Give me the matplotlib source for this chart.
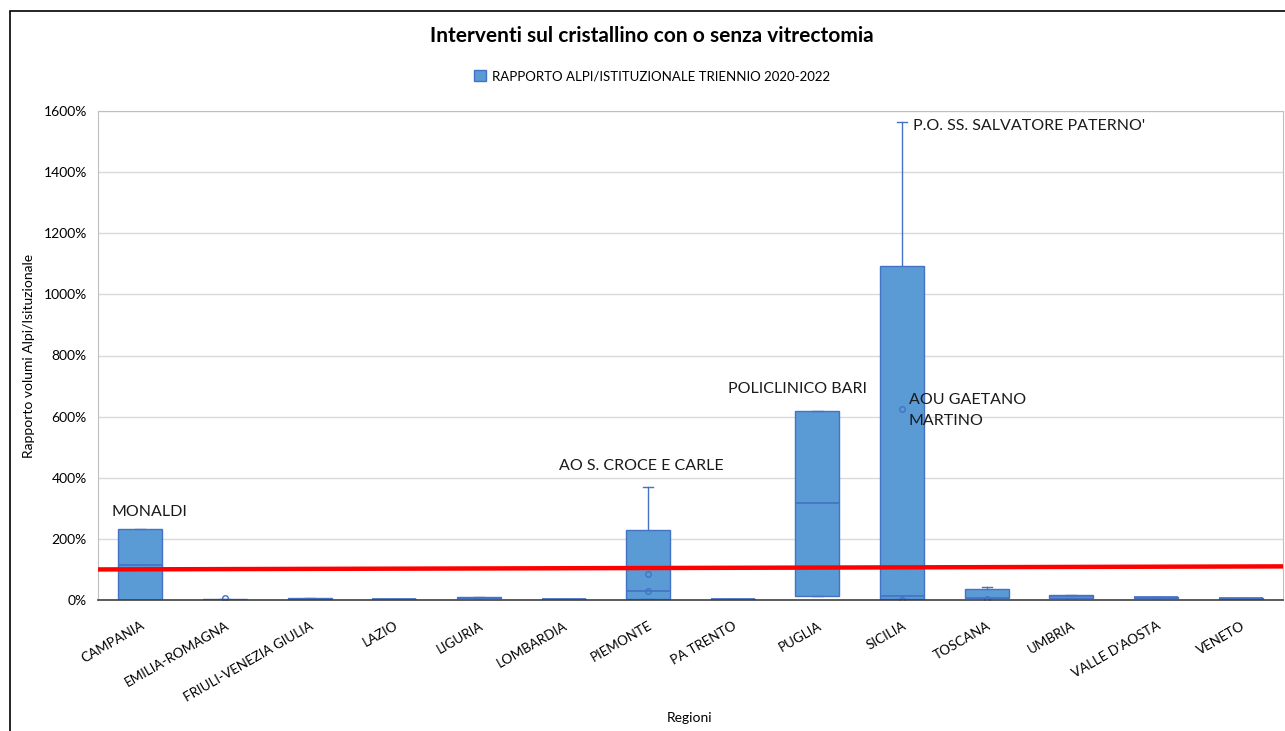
import matplotlib
matplotlib.use("Agg")
import matplotlib.pyplot as plt
from matplotlib.patches import Rectangle, Patch
from matplotlib.ticker import FuncFormatter

plt.rcParams['font.family'] = ['Lato', 'DejaVu Sans']

regioni = ["CAMPANIA", "EMILIA-ROMAGNA", "FRIULI-VENEZIA GIULIA", "LAZIO", "LIGURIA",
           "LOMBARDIA", "PIEMONTE", "PA TRENTO", "PUGLIA", "SICILIA", "TOSCANA",
           "UMBRIA", "VALLE D'AOSTA", "VENETO"]
q1 =     [0,   0.5, 2,   1,   5,   1,   3,   1,   13,  3,    6,  7,  8,  3]
median = [115, 1.5, 4,   2,   7,   2,   30,  2,   317, 13,   8,  12, 9,  5]
q3 =     [232, 3,   6,   3,   9,   3,   229, 3,   618, 1093, 36, 16, 10, 8]
whis_lo = [0,  0.5, 2,   1,   5,   1,   3,   1,   13,  3,    6,  7,  8,  3]
whis_hi = [232, 3,  6,   3,   9,   3,   370, 3,   618, 1564, 43, 16, 10, 8]
outliers = [[], [5], [], [], [], [], [85, 30], [], [], [625, 1], [3], [], [], []]

soglia = [100, 110]  # red reference line, left to right
y_ticks = [0, 200, 400, 600, 800, 1000, 1200, 1400, 1600]

annotazioni = [
    ("MONALDI", 0, 288),
    ("AO S. CROCE E CARLE", 6, 440),
    ("POLICLINICO BARI", 8, 690),
    ("AOU GAETANO\nMARTINO", 9, 620),
    ("P.O. SS. SALVATORE PATERNO'", 9, 1552),
]
annot_dx = [-0.34, -1.05, -1.06, 0.08, 0.13]

fig = plt.figure(figsize=(12.85, 7.31), dpi=100)
ax = fig.add_axes([98/1285, 1 - 600/731, (1283 - 98)/1285, (600 - 111)/731])

stats = []
for i in range(len(regioni)):
    stats.append(dict(q1=q1[i], med=median[i], q3=q3[i], whislo=whis_lo[i],
                      whishi=whis_hi[i], fliers=outliers[i], label=regioni[i]))

edge = "#4472C4"
fill = "#5B9BD5"
ax.bxp(stats, positions=range(len(regioni)), widths=0.52, patch_artist=True,
       boxprops=dict(facecolor=fill, edgecolor=edge, linewidth=1.0),
       medianprops=dict(color=edge, linewidth=1.2),
       whiskerprops=dict(color=edge, linewidth=1.0),
       capprops=dict(color=edge, linewidth=1.0),
       capwidths=0.12,
       flierprops=dict(marker='o', markersize=4, markerfacecolor='none',
                       markeredgecolor=edge, markeredgewidth=1.0))

ax.plot([-0.5, len(regioni) - 0.5], soglia, color="#FF0000", linewidth=3.2, zorder=5)

ax.set_xlim(-0.5, len(regioni) - 0.5)
ax.set_ylim(0, 1600)
ax.set_yticks(y_ticks)
ax.yaxis.set_major_formatter(FuncFormatter(lambda v, p: f"{int(v)}%"))
ax.grid(axis='y', color="#D9D9D9", linewidth=1.0)
ax.set_axisbelow(True)
ax.tick_params(axis='y', length=0, labelsize=10, pad=8)
ax.tick_params(axis='x', length=0, labelsize=9.6, pad=14)
ax.set_xticks(range(len(regioni)))
ax.set_xticklabels(regioni, rotation=30, ha='right', rotation_mode='anchor')
for s in ['left', 'top', 'right']:
    ax.spines[s].set_color("#BFBFBF")
ax.spines['bottom'].set_color("#404040")
ax.spines['bottom'].set_linewidth(1.2)

for (txt, xi, yv), dx in zip(annotazioni, annot_dx):
    ax.text(xi + dx, yv, txt, fontsize=11.5, color="#1a1a1a", va='center', ha='left',
            linespacing=1.6)

ax.set_ylabel("Rapporto volumi Alpi/Isituzionale", fontsize=10, labelpad=6)
fig.text(690/1285, 1 - 718/731, "Regioni", ha='center', va='center', fontsize=10)

fig.text(652/1285, 1 - 36/731, "Interventi sul cristallino con o senza vitrectomia",
         ha='center', va='center', fontsize=15, fontweight='bold')
leg = fig.legend(handles=[Patch(facecolor=fill, edgecolor=edge,
                                label="RAPPORTO ALPI/ISTITUZIONALE TRIENNIO 2020-2022")],
                 loc='center', bbox_to_anchor=(652/1285, 1 - 76/731), frameon=False,
                 fontsize=9.5, handlelength=0.9, handleheight=0.9, handletextpad=0.5)

fig.patches.append(Rectangle((10/1285, -0.1), 1.2, 1 - 11/731 + 0.1,
                             transform=fig.transFigure, fill=False,
                             edgecolor="#000000", linewidth=1.2))

fig.savefig("out.png", dpi=100)
